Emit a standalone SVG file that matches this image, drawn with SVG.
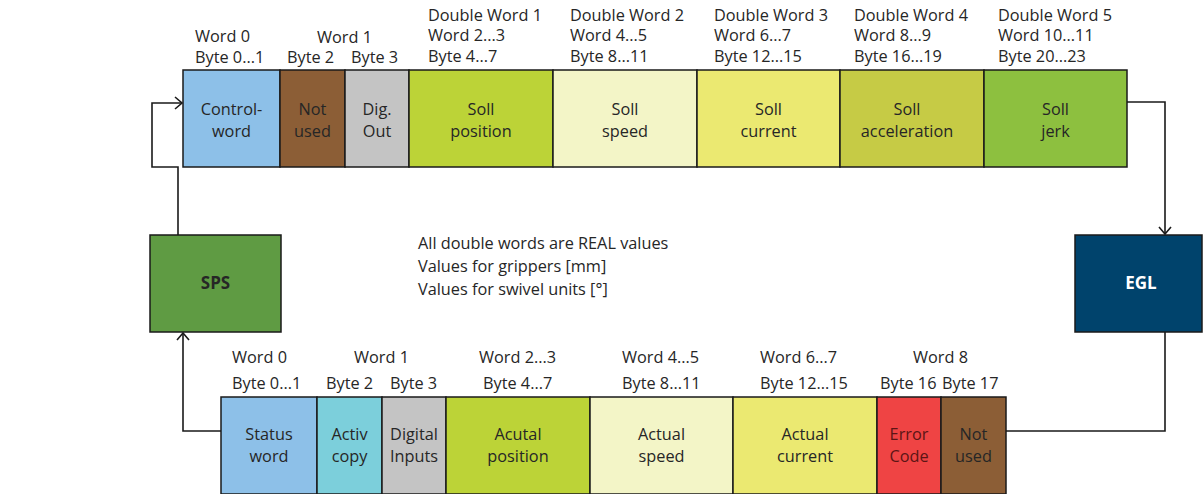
<svg xmlns="http://www.w3.org/2000/svg" width="1203" height="494" viewBox="0 0 1203 494">
<style>
text{font-family:"Open Sans","Noto Sans","Liberation Sans",sans-serif;font-size:16.3px;fill:#262626}
.c{text-anchor:middle}
.b{font-weight:bold;font-size:17px}
.box{stroke:#1a1a1a;stroke-width:1.5}
.con{fill:none;stroke:#1a1a1a;stroke-width:1.6}
</style>
<defs>
<marker id="arr" markerWidth="12" markerHeight="14" refX="9" refY="7" orient="auto" markerUnits="userSpaceOnUse">
<path d="M2,1 L9,7 L2,13" fill="none" stroke="#1a1a1a" stroke-width="1.6"/>
</marker>
</defs>
<rect width="1203" height="494" fill="#fff"/>

<g id="connectors">
<path class="con" d="M178,235 V167 H152 V103 H182" marker-end="url(#arr)"/>
<path class="con" d="M1127,102 H1165 V234" marker-end="url(#arr)"/>
<path class="con" d="M1165,332 V431 H1006"/>
<path class="con" d="M221,431 H183 V333" marker-end="url(#arr)"/>
</g>

<g id="top-labels">
<text x="195" y="42">Word 0</text>
<text x="195" y="63">Byte 0...1</text>
<text x="317" y="43">Word 1</text>
<text x="287" y="63">Byte 2</text>
<text x="351" y="63">Byte 3</text>
<text x="428" y="21">Double Word 1</text>
<text x="428" y="41">Word 2...3</text>
<text x="428" y="62">Byte 4...7</text>
<text x="570" y="21">Double Word 2</text>
<text x="570" y="41">Word 4...5</text>
<text x="570" y="62">Byte 8...11</text>
<text x="714" y="21">Double Word 3</text>
<text x="714" y="41">Word 6...7</text>
<text x="714" y="62">Byte 12...15</text>
<text x="854" y="21">Double Word 4</text>
<text x="854" y="41">Word 8...9</text>
<text x="854" y="62">Byte 16...19</text>
<text x="998" y="21">Double Word 5</text>
<text x="998" y="41">Word 10...11</text>
<text x="998" y="62">Byte 20...23</text>
</g>

<g id="control-word"><rect class="box" x="183" y="70" width="97" height="97" fill="#8dc0e8"/><text class="c" x="231.5" y="115">Control-</text><text class="c" x="231.5" y="137">word</text></g>
<g id="not-used-top"><rect class="box" x="280" y="70" width="65" height="97" fill="#8c5e36"/><text class="c" x="312.5" y="115">Not</text><text class="c" x="312.5" y="137">used</text></g>
<g id="dig-out"><rect class="box" x="345" y="70" width="64" height="97" fill="#c4c4c4"/><text class="c" x="377" y="115">Dig.</text><text class="c" x="377" y="137">Out</text></g>
<g id="soll-position"><rect class="box" x="409" y="70" width="144" height="97" fill="#bcd337"/><text class="c" x="481" y="115">Soll</text><text class="c" x="481" y="137">position</text></g>
<g id="soll-speed"><rect class="box" x="553" y="70" width="144" height="97" fill="#f3f5c7"/><text class="c" x="625" y="115">Soll</text><text class="c" x="625" y="137">speed</text></g>
<g id="soll-current"><rect class="box" x="697" y="70" width="143" height="97" fill="#ebe971"/><text class="c" x="768.5" y="115">Soll</text><text class="c" x="768.5" y="137">current</text></g>
<g id="soll-acceleration"><rect class="box" x="840" y="70" width="144" height="97" fill="#c6cb45"/><text class="c" x="907" y="115">Soll</text><text class="c" x="907" y="137">acceleration</text></g>
<g id="soll-jerk"><rect class="box" x="984" y="70" width="143" height="97" fill="#8dc03f"/><text class="c" x="1055.5" y="115">Soll</text><text class="c" x="1055.5" y="137">jerk</text></g>

<g id="note">
<text x="418" y="249">All double words are REAL values</text>
<text x="418" y="272">Values for grippers [mm]</text>
<text x="418" y="295">Values for swivel units [°]</text>
</g>

<g id="sps"><rect class="box" x="150" y="235" width="131" height="97" fill="#5f9b43"/><text class="c b" x="215.5" y="289">SPS</text></g>
<g id="egl"><rect class="box" x="1075" y="235" width="127" height="97" fill="#00436c"/><text class="c b" x="1141" y="289" style="fill:#fff">EGL</text></g>

<g id="bottom-labels">
<text x="232" y="363">Word 0</text>
<text x="232" y="389">Byte 0...1</text>
<text x="354" y="363">Word 1</text>
<text x="326" y="389">Byte 2</text>
<text x="390" y="389">Byte 3</text>
<text x="479" y="363">Word 2...3</text>
<text x="483" y="389">Byte 4...7</text>
<text x="622" y="363">Word 4...5</text>
<text x="622" y="389">Byte 8...11</text>
<text x="760" y="363">Word 6...7</text>
<text x="760" y="389">Byte 12...15</text>
<text x="913" y="363">Word 8</text>
<text x="880" y="389">Byte 16</text>
<text x="942" y="389">Byte 17</text>
</g>

<g id="status-word"><rect class="box" x="221" y="397" width="96" height="97" fill="#8dc0e8"/><text class="c" x="269" y="440">Status</text><text class="c" x="269" y="462">word</text></g>
<g id="activ-copy"><rect class="box" x="317" y="397" width="65" height="97" fill="#7ccfdb"/><text class="c" x="349.5" y="440">Activ</text><text class="c" x="349.5" y="462">copy</text></g>
<g id="digital-inputs"><rect class="box" x="382" y="397" width="64" height="97" fill="#c4c4c4"/><text class="c" x="414" y="440">Digital</text><text class="c" x="414" y="462">Inputs</text></g>
<g id="acutal-position"><rect class="box" x="446" y="397" width="144" height="97" fill="#bcd337"/><text class="c" x="518" y="440">Acutal</text><text class="c" x="518" y="462">position</text></g>
<g id="actual-speed"><rect class="box" x="590" y="397" width="143" height="97" fill="#f3f5c7"/><text class="c" x="661.5" y="440">Actual</text><text class="c" x="661.5" y="462">speed</text></g>
<g id="actual-current"><rect class="box" x="733" y="397" width="144" height="97" fill="#ebe971"/><text class="c" x="805" y="440">Actual</text><text class="c" x="805" y="462">current</text></g>
<g id="error-code"><rect class="box" x="877" y="397" width="64" height="97" fill="#ef4444"/><text class="c" x="909" y="440" style="fill:#5c1515">Error</text><text class="c" x="909" y="462" style="fill:#5c1515">Code</text></g>
<g id="not-used-bottom"><rect class="box" x="941" y="397" width="65" height="97" fill="#8c5e36"/><text class="c" x="973.5" y="440">Not</text><text class="c" x="973.5" y="462">used</text></g>
</svg>
